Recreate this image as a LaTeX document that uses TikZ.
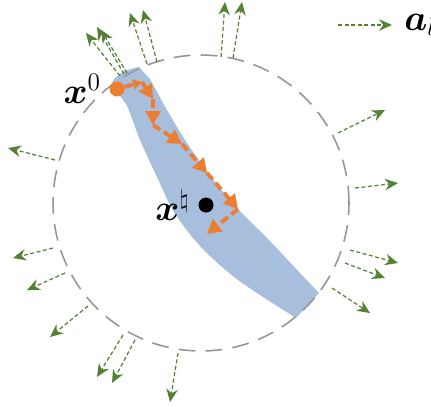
\documentclass[tikz,border=0pt]{standalone}
\usepackage{amsmath}
\usepackage{tikz}
\usepackage{xcolor}
\usetikzlibrary{arrows.meta, positioning}
\definecolor{normalgreen}{RGB}{84,130,53}
\definecolor{steporange}{RGB}{237,125,49}
\definecolor{bandblue}{RGB}{167,190,221}
\definecolor{ringgray}{RGB}{150,150,150}

\begin{document}
\begin{tikzpicture}[
		x=0.02cm, y=-0.02cm,
		ring/.style={draw=ringgray, line width=0.9pt, dash pattern=on 0.34cm off 0.2cm,
			circle, minimum size=5.92cm, inner sep=0pt},
		band/.style={fill=bandblue},
		gdstep/.style={-{Triangle[length=2.8mm, width=3mm]}, draw=steporange,
			line width=2.2pt, dash pattern=on 0.17cm off 0.09cm},
		normal/.style={-{Stealth[length=2.6mm, width=2.3mm]}, draw=normalgreen,
			line width=0.7pt, dash pattern=on 0.08cm off 0.05cm},
		dot/.style={circle, inner sep=0pt, minimum size=0.3cm},
		lbl/.style={inner sep=0pt, font=\huge}
	]
		\useasboundingbox (0,0) rectangle (431,406);
		% feasible band
		\fill[band] plot[smooth, tension=0.5] coordinates {(139,67) (123,72) (112,84) (127,106)
			(140,140) (157,177) (174,212) (200,246) (238,280) (296,318)}
			-- plot[smooth, tension=0.5] coordinates {(319,293) (300,273) (267,238) (238,209)
			(212,178) (187,143) (167,110) (150,79)} -- cycle;
		\node[ring] (ring) at (201,203) {};
		% outward directions
		\draw[normal] (120,76) -- (86,33);
		\draw[normal] (124,74) -- (97,27);
		\draw[normal] (127,73) -- (101,30);
		\draw[normal] (147,64) -- (130,13);
		\draw[normal] (157,62) -- (143,10);
		\draw[normal] (221,57) -- (225,2);
		\draw[normal] (233,58) -- (242,2);
		\draw[normal] (338,133) -- (385,110);
		\draw[normal] (355,188) -- (398,183);
		\draw[normal] (350,250) -- (398,263);
		\draw[normal] (345,263) -- (385,278);
		\draw[normal] (332,288) -- (370,313);
		\draw[normal] (178,353) -- (170,402);
		\draw[normal] (135,340) -- (112,383);
		\draw[normal] (123,335) -- (97,377);
		\draw[normal] (88,306) -- (50,337);
		\draw[normal] (65,273) -- (27,290);
		\draw[normal] (53,248) -- (13,258);
		\draw[normal] (55,160) -- (8,148);
		% legend
		\coordinate (legend) at (338,25);
		\node[lbl, anchor=west] (al) at (404,25) {$\boldsymbol{a}_l$};
		\draw[normal] (legend) -- ([xshift=-0.24cm]al.west);
		% iterates
		\node[dot, fill=steporange] (x0) at (117,89) {};
		\node[dot, fill=black] (xnat) at (206,205) {};
		\node[lbl, left=0.16cm of x0] (x0lbl) {$\boldsymbol{x}^0$};
		\node[lbl, left=0.16cm of xnat] (xnatlbl) {$\boldsymbol{x}^\natural$};
		\coordinate (s1) at (142,82);
		\coordinate (s2) at (153,99);
		\coordinate (s3) at (153,125);
		\coordinate (s4) at (182,144);
		\coordinate (s5) at (207,173);
		\coordinate (s6) at (238,209);
		\coordinate (s7) at (207,234);
		\draw[gdstep, -{Triangle[length=1.8mm, width=2mm]}] (x0) -- (s1);
		\draw[gdstep] (s1) -- (s2);
		\draw[gdstep] (s2) -- (s3);
		\draw[gdstep] (s3) -- (s4);
		\draw[gdstep] (s4) -- (s5);
		\draw[gdstep] (s5) -- (s6);
		\draw[gdstep] (s6) -- (s7);
	\end{tikzpicture}
\end{document}
